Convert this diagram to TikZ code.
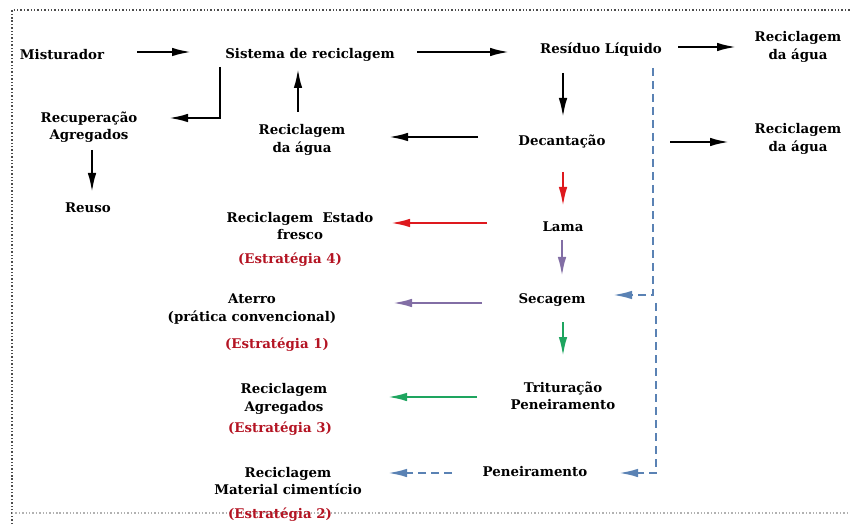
\documentclass[tikz,border=0pt]{standalone}
\usepackage{fontspec}
\setmainfont{DejaVu Serif}
\usetikzlibrary{arrows.meta,calc}
\definecolor{cred}{RGB}{222,25,30}
\definecolor{cpurple}{RGB}{130,110,165}
\definecolor{cgreen}{RGB}{30,165,95}
\definecolor{cblue}{RGB}{90,130,180}
\definecolor{stratred}{RGB}{180,20,35}
\tikzset{
 lbl/.style={font=\fontsize{13.4}{17.5}\selectfont\bfseries, align=center, inner sep=0pt},
 strat/.style={lbl, text=stratred},
 arr/.style={line width=2.6bp, -{Latex[length=20bp,width=8.5bp]}},
 bdash/.style={arr, draw=cblue, dash pattern=on 8bp off 5bp},
}
\begin{document}
\begin{tikzpicture}[x=1bp,y=-1bp]
\useasboundingbox (0,0) rectangle (850,524);
\draw[dotted, line width=1.4bp, black!70] (12,524) -- (12,10) -- (850,10);
\draw[dotted, line width=1.4bp, black!30] (12,513) -- (850,513);
% nodes
\node[lbl] (mist) at (62,55) {Misturador};
\node[lbl] (sis) at (310,55) {Sistema de reciclagem};
\node[lbl] (res) at (601,50) {Resíduo Líquido};
\node[lbl] (rA1) at (798,47) {Reciclagem\\da água};
\node[lbl] (rec) at (89,127) {Recuperação\\Agregados};
\node[lbl] (reuso) at (88,208) {Reuso};
\node[lbl] (rA2) at (302,140) {Reciclagem\\da água};
\node[lbl] (dec) at (562,142) {Decantação};
\node[lbl] (rA3) at (798,139) {Reciclagem\\da água};
\node[lbl] (lama) at (563,227) {Lama};
\node[lbl] (ref) at (300,226) {Reciclagem\ \ Estado\\fresco};
\node[strat] (s4) at (290,260) {(Estratégia 4)};
\node[lbl] (sec) at (552,300) {Secagem};
\node[lbl] (ater) at (252,309) {Aterro\\(prática convencional)};
\node[strat] (s1) at (277,345) {(Estratégia 1)};
\node[lbl] (tri) at (563,396) {Trituração\\Peneiramento};
\node[lbl] (ragr) at (284,399) {Reciclagem\\Agregados};
\node[strat] (s3) at (280,429) {(Estratégia 3)};
\node[lbl] (pen) at (535,472) {Peneiramento};
\node[lbl] (rmat) at (288,481) {Reciclagem\\Material cimentício};
\node[strat] (s2) at (280,515) {(Estratégia 2)};
% black arrows
\draw[arr] ($(mist)+(75,-3)$) -- ($(sis)+(-118,-3)$);
\draw[arr] ($(sis)+(107,-3)$) -- ($(res)+(-91,2)$);
\draw[arr] ($(res)+(77,-3)$) -- ($(rA1)+(-61,0)$);
\draw[arr] ($(sis)+(-90,12)$) |- ($(rec)+(79,-9)$);
\draw[arr] ($(rec)+(3,23)$) -- ($(reuso)+(4,-15)$);
\draw[arr] ($(rA2)+(-4,-28)$) -- ($(sis)+(-12,13)$);
\draw[arr] ($(dec)+(-84,-5)$) -- ($(rA2)+(86,-3)$);
\draw[arr] ($(res)+(-38,23)$) -- ($(dec)+(1,-24)$);
\draw[arr] ($(dec)+(108,0)$) -- ($(rA3)+(-68,3)$);
% dashed blue
\coordinate (dtop) at ($(res)+(52,18)$);
\coordinate (dmid) at ($(sec)+(104,3)$);
\draw[bdash] (dtop) |- ($(sec)+(60,-5)$);
\draw[bdash] (dmid) |- ($(pen)+(83,1)$);
\draw[bdash] ($(pen)+(-83,1)$) -- ($(rmat)+(99,-8)$);
% coloured arrows
\draw[arr, cred] ($(dec)+(1,30)$) -- ($(lama)+(0,-20)$);
\draw[arr, cred] ($(lama)+(-76,-4)$) -- ($(ref)+(90,-3)$);
\draw[arr, cpurple] ($(lama)+(-1,13)$) -- ($(sec)+(10,-23)$);
\draw[arr, cpurple] ($(sec)+(-70,3)$) -- ($(ater)+(140,-6)$);
\draw[arr, cgreen] ($(sec)+(11,22)$) -- ($(tri)+(0,-39)$);
\draw[arr, cgreen] ($(tri)+(-86,1)$) -- ($(ragr)+(103,-2)$);
\end{tikzpicture}
\end{document}
